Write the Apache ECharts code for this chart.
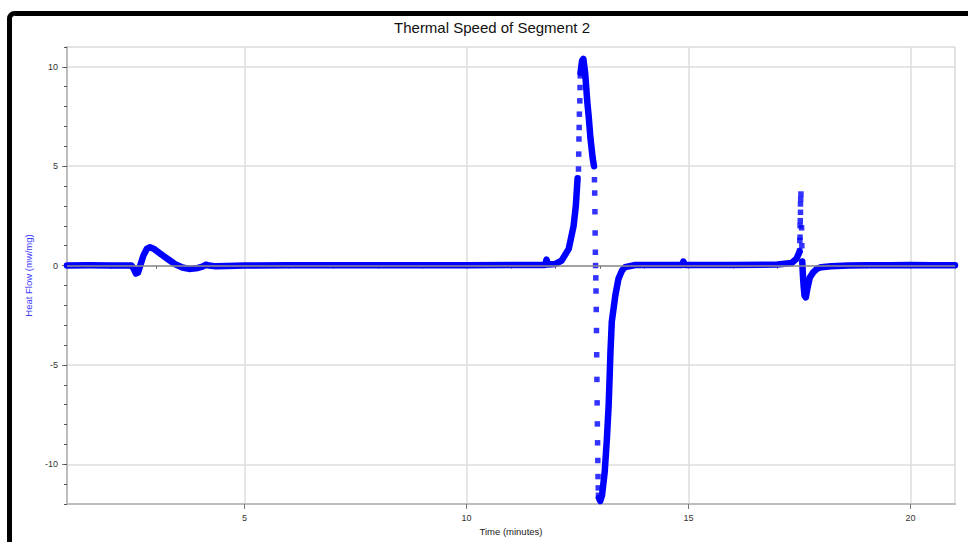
<!DOCTYPE html>
<html>
<head>
<meta charset="utf-8">
<script src="https://cdn.jsdelivr.net/npm/echarts@6/dist/echarts.min.js"></script>
<style>
html,body{margin:0;padding:0;background:#fff;}
#chart{width:968px;height:542px;}
</style>
</head>
<body>
<div id="chart"></div>
<script>
// ---- text ----
const chartTitle = 'Thermal Speed of Segment 2';
const xAxisName = 'Time (minutes)';
const yAxisName = 'Heat Flow (mw/mg)';
const xTickLabels = [5, 10, 15, 20];
const yTickLabels = [-10, -5, 0, 5, 10];

// ---- data: [time (min), heat flow (mw/mg)] ----
// densely sampled stretches (appear as a solid thick trace)
const traceStart = [
  [1.0, 0.0], [1.5, 0.01], [2.0, 0.0], [2.45, 0.0], [2.5, -0.15], [2.55, -0.4], [2.6, -0.35],
  [2.65, 0.0], [2.72, 0.5], [2.8, 0.85], [2.87, 0.92], [2.95, 0.85], [3.1, 0.6], [3.3, 0.28],
  [3.45, 0.05], [3.6, -0.1], [3.75, -0.17], [3.95, -0.12], [4.05, -0.05], [4.13, 0.04],
  [4.2, 0.0], [4.35, -0.04], [4.6, -0.02], [5.0, 0.0], [6.0, 0.02], [7.0, 0.02], [8.0, 0.02],
  [9.0, 0.02], [10.0, 0.02], [11.0, 0.03], [11.77, 0.03], [11.8, 0.3], [11.83, 0.05],
  [12.0, 0.08], [12.14, 0.25], [12.3, 0.84], [12.41, 2.0], [12.46, 3.0], [12.5, 4.4]
];
const tracePeak = [
  [12.565, 9.7], [12.6, 10.3], [12.63, 10.4], [12.67, 9.7], [12.72, 8.2], [12.75, 7.5],
  [12.79, 6.4], [12.84, 5.4], [12.87, 5.0]
];
const traceRecovery = [
  [12.98, -11.7], [13.01, -11.85], [13.05, -11.56], [13.11, -10.4], [13.16, -8.7], [13.2, -7.0],
  [13.22, -5.7], [13.24, -4.34], [13.27, -2.83], [13.35, -1.5], [13.42, -0.67], [13.5, -0.25],
  [13.57, -0.08], [13.8, 0.03], [14.5, 0.03], [14.85, 0.03], [14.88, 0.2], [14.92, 0.03],
  [16.0, 0.03], [17.0, 0.05], [17.32, 0.13], [17.43, 0.34], [17.5, 0.7]
];
const traceEnd = [
  [17.56, 0.2], [17.575, -0.5], [17.59, -1.0], [17.61, -1.5], [17.64, -1.6], [17.68, -1.1],
  [17.73, -0.6], [17.81, -0.33], [17.9, -0.15], [17.99, -0.08], [18.21, -0.03], [18.6, 0.0],
  [19.0, 0.02], [19.5, 0.01], [20.0, 0.03], [20.5, 0.02], [21.0, 0.02]
];
// sparsely sampled (fast-changing) stretches, visible as single square samples
const samplesRise = [
  [12.52, 4.86], [12.525, 5.61], [12.53, 6.37], [12.535, 6.95], [12.54, 7.62],
  [12.55, 8.29], [12.555, 8.96], [12.56, 9.55]
];
const samplesDrop = [
  [12.88, 4.32], [12.885, 3.65], [12.89, 2.71], [12.895, 1.64], [12.9, 0.67], [12.905, 0.0],
  [12.91, -0.62], [12.915, -1.28], [12.92, -2.21], [12.925, -3.27], [12.93, -4.49],
  [12.935, -5.73], [12.94, -6.91], [12.945, -7.97], [12.95, -8.92], [12.955, -9.81],
  [12.96, -10.62], [12.965, -11.19], [12.97, -11.56]
];
const samplesSpike = [
  [17.5, 0.75], [17.505, 1.26], [17.51, 1.43], [17.51, 2.01], [17.515, 2.26], [17.52, 2.68],
  [17.52, 3.1], [17.525, 3.35], [17.53, 3.6], [17.545, 1.9], [17.55, 1.0]
];

const BLUE = '#0000ff';
const FONT = 'Liberation Sans, Arial, sans-serif';

function traceSeries(data, extra) {
  return Object.assign({
    type: 'line', data: data, symbol: 'none', showSymbol: false, animation: false, z: 3,
    lineStyle: { color: BLUE, width: 6.5, cap: 'round', join: 'round' },
    itemStyle: { color: BLUE }
  }, extra || {});
}
function sampleSeries(data) {
  return {
    type: 'scatter', data: data, symbol: 'rect', symbolSize: 5.5, animation: false, z: 3,
    itemStyle: { color: BLUE }
  };
}

const chart = echarts.init(document.getElementById('chart'), null, { renderer: 'svg' });
chart.setOption({
  backgroundColor: '#ffffff',
  animation: false,
  title: {
    text: chartTitle, left: 492, top: 20, textAlign: 'center', padding: 0,
    textStyle: { fontSize: 15, fontWeight: 'normal', color: '#111', fontFamily: FONT }
  },
  grid: {
    left: 67, right: 13, top: 47, bottom: 38,
    show: true, borderColor: '#c8c8c8', borderWidth: 1, backgroundColor: 'transparent'
  },
  xAxis: [{
    type: 'value', min: 1, max: 21,
    name: xAxisName, nameLocation: 'middle', nameGap: 22,
    nameTextStyle: { fontSize: 9.5, color: '#222', fontFamily: FONT },
    axisLine: { show: true, onZero: false, lineStyle: { color: '#bdbdbd', width: 2 } },
    axisTick: { show: true, customValues: xTickLabels, length: 5, lineStyle: { color: '#777' } },
    axisLabel: { customValues: xTickLabels, fontSize: 9, color: '#333', margin: 9, fontFamily: FONT },
    splitLine: { show: true, lineStyle: { color: '#dedede', width: 1.5 } }
  }, {
    type: 'value', min: 1, max: 21, interval: 1, position: 'bottom', gridIndex: 0,
    axisLine: { show: false }, axisLabel: { show: false }, splitLine: { show: false },
    axisTick: { show: true, length: 3, lineStyle: { color: '#555' } }
  }],
  yAxis: [{
    type: 'value', min: -12, max: 11,
    name: yAxisName, nameLocation: 'middle', nameGap: 34,
    nameTextStyle: { fontSize: 9.5, color: '#3b3bff', fontFamily: FONT },
    axisLine: { show: true, onZero: false, lineStyle: { color: '#bdbdbd', width: 2 } },
    axisTick: { show: true, customValues: yTickLabels, length: 5, lineStyle: { color: '#777' } },
    axisLabel: { customValues: yTickLabels, fontSize: 9, color: '#333', margin: 9, fontFamily: FONT },
    splitLine: { show: true, lineStyle: { color: '#dedede', width: 1.5 } }
  }, {
    type: 'value', min: -12, max: 11, interval: 1, position: 'left', gridIndex: 0,
    axisLine: { show: false }, axisLabel: { show: false }, splitLine: { show: false },
    axisTick: { show: true, length: 3, lineStyle: { color: '#555' } }
  }],
  graphic: [{
    type: 'rect', z: 100, silent: true,
    shape: { x: 9.5, y: 13.5, width: 1200, height: 800, r: 5 },
    style: { fill: 'none', stroke: '#000', lineWidth: 5 }
  }],
  series: [
    traceSeries(traceStart, {
      markLine: {
        silent: true, symbol: 'none', label: { show: false }, animation: false,
        lineStyle: { color: '#8c8c8c', width: 1.5, type: 'solid' },
        data: [{ yAxis: 0 }]
      }
    }),
    traceSeries(tracePeak),
    traceSeries(traceRecovery),
    traceSeries(traceEnd),
    sampleSeries(samplesRise),
    sampleSeries(samplesDrop),
    sampleSeries(samplesSpike)
  ]
});
</script>
</body>
</html>
